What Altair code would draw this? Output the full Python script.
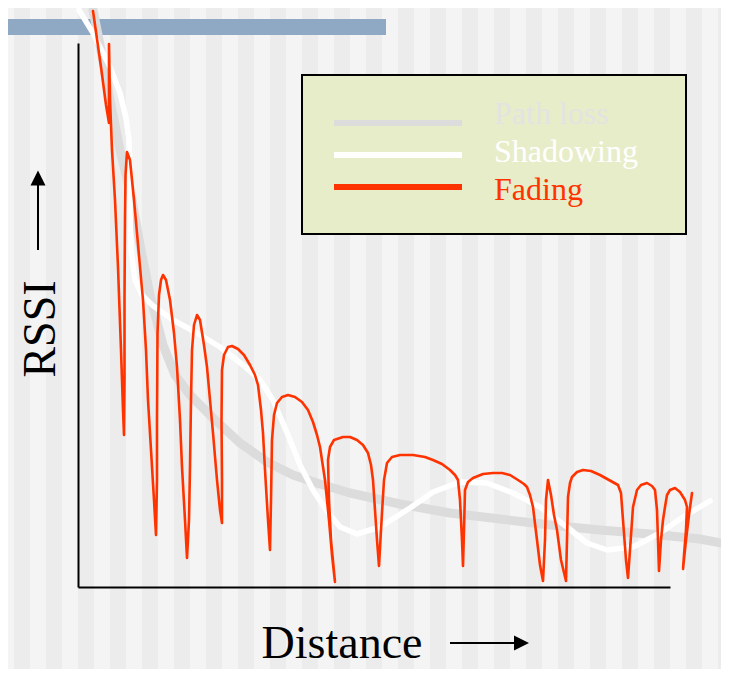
import altair as alt
import pandas as pd

# ---------------- data (arbitrary units: distance 0..592, RSSI 0..544) ----------------
pl_dist = [15, 22, 32, 42, 54, 63, 72, 85, 97, 112, 135, 162, 189, 215, 242, 272, 322, 372,
           422, 472, 522, 572, 622, 648]
pl_rssi = [577, 542, 487, 437, 387, 337, 292, 242, 212, 192, 169, 144, 125, 112, 103, 94, 83, 74,
           68, 62, 57, 53, 48, 43]

sh_dist = [1, 15, 32, 42, 48, 51, 52, 52, 53, 57, 64, 74, 95, 119, 142, 165, 182, 195, 210, 222,
           235, 248, 262, 279, 302, 332, 355, 382, 409, 435, 462, 489, 509, 529, 555, 582, 605, 632]
sh_rssi = [577, 554, 520, 494, 469, 447, 417, 377, 337, 307, 292, 282, 267, 254, 240, 222, 207, 187, 152, 122,
           97, 77, 60, 53, 60, 79, 95, 105, 104, 94, 80, 60, 44, 37, 40, 54, 70, 86]

fd_dist = [15, 23, 28, 31, 31, 32, 34, 37, 40, 43, 45, 46,
           46.5, 46.5, 47, 47.5, 49, 52, 56, 59, 62, 65, 68, 70, 73, 76, 78,
           79, 79, 79.5, 81, 83, 85, 88, 92, 96, 99, 102, 104, 107, 109,
           111, 112, 113, 114, 116, 119, 122, 126, 129, 132, 135, 139, 142, 144,
           144, 143.5, 144, 146, 150, 154, 160, 166, 172, 177, 180, 183, 185, 187, 190, 192,
           193, 194, 196, 199, 204, 210, 217, 224, 230, 235, 239, 242, 247, 251, 254, 257,
           253, 251, 250, 252, 256, 265, 272, 279, 285, 290, 293, 295, 297, 299, 301,
           303, 304, 306, 309, 314, 322, 335, 347, 355, 364, 372, 377, 380, 382, 384, 385,
           386, 387, 390, 395, 405, 415, 424, 432, 440, 446, 449, 452, 455, 459, 462, 465,
           467, 468, 470, 473, 476, 479, 483, 488,
           489, 490, 492, 494, 499, 505, 513, 522, 531, 540, 543, 545, 548, 550,
           552, 555, 559, 563, 569, 574, 577, 579, 580, 581,
           583, 585, 587, 589, 592, 597, 602, 607, 609, 608, 606, 605,
           608, 611, 614]
fd_rssi = [576, 520, 482, 464, 543, 487, 437, 387, 320, 237, 177, 152,
           207, 287, 367, 412, 435, 427, 387, 354, 320, 287, 237, 187, 137, 87, 52,
           107, 167, 254, 292, 307, 312, 307, 287, 254, 220, 167, 120, 67, 29,
           67, 120, 187, 237, 262, 272, 267, 242, 220, 187, 154, 107, 77, 64,
           107, 167, 217, 232, 240, 241, 238, 232, 222, 212, 202, 177, 154, 117, 67, 37,
           87, 147, 172, 184, 190, 192, 190, 185, 177, 165, 152, 140, 107, 67, 32, 5,
           47, 87, 127, 140, 147, 150, 150, 147, 142, 134, 122, 107, 77, 47, 21,
           57, 74, 107, 124, 130, 132, 132, 130, 127, 123, 117, 112, 107, 87, 47, 21,
           57, 97, 105, 109, 113, 114, 114, 112, 107, 103, 100, 92, 80, 47, 22, 6,
           47, 87, 107, 92, 72, 57, 27, 6,
           47, 90, 104, 110, 115, 117, 116, 112, 107, 102, 94, 67, 27, 9,
           37, 80, 97, 102, 104, 101, 97, 77, 47, 16,
           47, 67, 80, 92, 97, 99, 95, 87, 80, 57, 32, 18,
           47, 72, 94]

legend_names = ["Path loss", "Shadowing", "Fading"]
legend_line_colors = ["#dcdcdc", "#ffffff", "#ff3300"]
legend_text_colors = ["#e3e3e3", "#ffffff", "#ff3300"]

stripe_index = list(range(-3, 21))

assert len(pl_dist) == len(pl_rssi)
assert len(sh_dist) == len(sh_rssi)
assert len(fd_dist) == len(fd_rssi)

# ---------------- scales / axes ----------------
xscale = alt.Scale(domain=[0, 592], nice=False, zero=False)
yscale = alt.Scale(domain=[0, 544], nice=False, zero=False)
axis_style = dict(domain=True, domainColor="#000000", domainWidth=2, ticks=False,
                  labels=False, grid=False, title=None, zindex=2)
x_axis = alt.Axis(**axis_style)
y_axis = alt.Axis(**axis_style)

one = pd.DataFrame({"v": [0]})
layers = []

# background stripes
layers.append(
    alt.Chart(pd.DataFrame({"k": stripe_index}))
    .transform_calculate(x0="datum.k * 32", x1="datum.k * 32 + 16")
    .mark_rect(color="#ececec", clip=False)
    .encode(x=alt.X("x0:Q", scale=xscale, axis=x_axis), x2="x1:Q",
            y=alt.value(-40), y2=alt.value(640))
)

# blue title bar
layers.append(
    alt.Chart(one).mark_rect(color="#8fa8c4")
    .encode(x=alt.value(-80), x2=alt.value(308), y=alt.value(-24), y2=alt.value(-8))
)

# legend box
layers.append(
    alt.Chart(one).mark_rect(fill="#e8edc9", stroke="#000000", strokeWidth=2)
    .encode(x=alt.value(224), x2=alt.value(608), y=alt.value(32), y2=alt.value(191))
)
line_y = [80, 112, 144]
text_y = [80.5, 119, 156.5]
for i, name in enumerate(legend_names):
    layers.append(
        alt.Chart(one).mark_rule(color=legend_line_colors[i], strokeWidth=6)
        .encode(x=alt.value(256), x2=alt.value(384), y=alt.value(line_y[i]))
    )
    layers.append(
        alt.Chart(pd.DataFrame({"label": [name]}))
        .mark_text(color=legend_text_colors[i], fontSize=32, align="left", baseline="alphabetic")
        .encode(x=alt.value(416), y=alt.value(text_y[i]), text="label:N")
    )


def series(dist, rssi, color, width):
    df = pd.DataFrame({"d": dist, "r": rssi, "i": range(len(dist))})
    return (
        alt.Chart(df)
        .mark_line(color=color, strokeWidth=width, strokeJoin="round", strokeCap="round",
                   interpolate="linear", clip=False)
        .encode(x=alt.X("d:Q", scale=xscale, axis=x_axis),
                y=alt.Y("r:Q", scale=yscale, axis=y_axis),
                order="i:Q")
    )


layers.append(series(pl_dist, pl_rssi, "#dcdcdc", 9))
layers.append(series(sh_dist, sh_rssi, "#ffffff", 5.5))
layers.append(series(fd_dist, fd_rssi, "#ff3300", 2.6))

# axis titles with arrows
layers.append(
    alt.Chart(pd.DataFrame({"t": ["RSSI"]}))
    .mark_text(fontSize=46, angle=270, align="center", baseline="alphabetic", color="#000000")
    .encode(x=alt.value(-23), y=alt.value(286), text="t:N")
)
layers.append(
    alt.Chart(pd.DataFrame({"t": ["Distance"]}))
    .mark_text(fontSize=46, align="center", baseline="alphabetic", color="#000000")
    .encode(x=alt.value(264), y=alt.value(615), text="t:N")
)
layers.append(
    alt.Chart(one).mark_rule(color="#000000", strokeWidth=2)
    .encode(x=alt.value(-40), y=alt.value(207), y2=alt.value(140))
)
layers.append(
    alt.Chart(one).mark_point(shape="M-1,1L0,-1L1,1Z", filled=True, color="#000000",
                              size=225, opacity=1)
    .encode(x=alt.value(-40), y=alt.value(135))
)
layers.append(
    alt.Chart(one).mark_rule(color="#000000", strokeWidth=2)
    .encode(x=alt.value(372), x2=alt.value(440), y=alt.value(600))
)
layers.append(
    alt.Chart(one).mark_point(shape="M-1,-1L1,0L-1,1Z", filled=True, color="#000000",
                              size=225, opacity=1)
    .encode(x=alt.value(443.5), y=alt.value(600))
)

chart = (
    alt.layer(*layers)
    .properties(width=592, height=544,
                padding={"left": 70, "top": 35, "right": 51, "bottom": 82},
                autosize=alt.AutoSizeParams(type="none"),
                background="#f4f4f4")
    .configure_view(stroke=None)
    .configure_text(font="Liberation Serif")
)

chart.save("out.html", embed_options={"renderer": "svg", "actions": False})
